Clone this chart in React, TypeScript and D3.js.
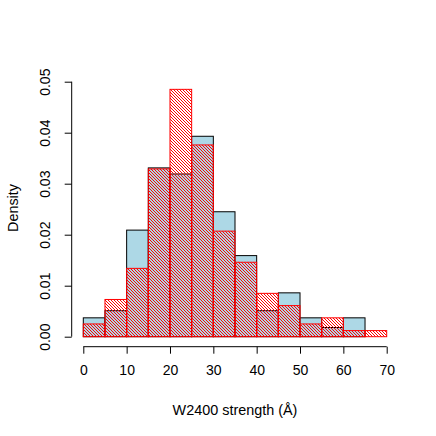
import React, { useEffect, useRef } from 'react';
import * as d3 from 'd3';

// bin edges (width 5)
const binStarts = [0, 5, 10, 15, 20, 25, 30, 35, 40, 45, 50, 55, 60, 65];
const binWidth = 5;
// densities
const blueDensity = [0.0037, 0.0051, 0.0209, 0.0331, 0.0319, 0.0393, 0.0245, 0.0159, 0.0051, 0.0086, 0.0037, 0.0018, 0.0037, 0];
const redDensity = [0.0025, 0.0073, 0.0134, 0.0329, 0.0485, 0.0376, 0.0207, 0.0146, 0.0085, 0.0061, 0.0025, 0.0037, 0.0012, 0.0012];
const xTicks = [0, 10, 20, 30, 40, 50, 60, 70];
const yTicks = [0, 0.01, 0.02, 0.03, 0.04, 0.05];

export default function App() {
  const svgRef = useRef<SVGSVGElement>(null);

  useEffect(() => {
    const width = 436;
    const height = 436;
    const svg = d3.select(svgRef.current);
    svg.selectAll('*').remove();
    svg.attr('width', width).attr('height', height);

    const x = d3.scaleLinear().domain([0, 70]).range([83.3, 386.7]);
    const y = d3.scaleLinear().domain([0, 0.05]).range([336.7, 81.7]);

    // pixel staircase hatch ("\" direction), like R's density lines
    const p = 3;
    const defs = svg.append('defs');
    const pat = defs
      .append('pattern')
      .attr('id', 'hatch')
      .attr('patternUnits', 'userSpaceOnUse')
      .attr('width', p)
      .attr('height', p);
    for (let r = 0; r < p; r++) {
      pat
        .append('rect')
        .attr('x', r)
        .attr('y', r)
        .attr('width', 1)
        .attr('height', 1)
        .attr('fill', '#ff0000')
        .attr('shape-rendering', 'crispEdges');
    }

    const blue = binStarts.map((s, i) => ({ x0: s, x1: s + binWidth, d: blueDensity[i] }));
    const red = binStarts.map((s, i) => ({ x0: s, x1: s + binWidth, d: redDensity[i] }));

    svg
      .append('g')
      .selectAll('rect')
      .data(blue.filter((b) => b.d > 0))
      .join('rect')
      .attr('x', (d) => x(d.x0))
      .attr('width', (d) => x(d.x1) - x(d.x0))
      .attr('y', (d) => y(d.d))
      .attr('height', (d) => y(0) - y(d.d))
      .attr('fill', '#add8e6')
      .attr('stroke', '#000')
      .attr('stroke-width', 1);

    svg
      .append('g')
      .selectAll('rect')
      .data(red)
      .join('rect')
      .attr('x', (d) => x(d.x0))
      .attr('width', (d) => x(d.x1) - x(d.x0))
      .attr('y', (d) => y(d.d))
      .attr('height', (d) => y(0) - y(d.d))
      .attr('fill', 'url(#hatch)')
      .attr('stroke', '#ff0000')
      .attr('stroke-width', 1);

    const font = "'Liberation Sans', Arial, sans-serif";

    // x axis (R style, offset below)
    const xa = svg
      .append('g')
      .attr('transform', 'translate(0,346.7)')
      .call(d3.axisBottom(x).tickValues(xTicks).tickSize(7).tickPadding(11).tickFormat(d3.format('d')));
    xa.attr('font-size', 14).attr('font-family', font);
    xa.select('.domain').attr('d', `M${x(0)},0H${x(70)}`);
    xa.selectAll('text').attr('fill', '#000');

    // y axis
    const ya = svg
      .append('g')
      .attr('transform', 'translate(71.7,0)')
      .call(d3.axisLeft(y).tickValues(yTicks).tickSize(7).tickFormat(d3.format('.2f')));
    ya.attr('font-size', 14).attr('font-family', font);
    ya.select('.domain').attr('d', `M0,${y(0)}V${y(0.05)}`);
    ya.selectAll('.tick text')
      .attr('fill', '#000')
      .attr('text-anchor', 'middle')
      .attr('x', 0)
      .attr('y', 0)
      .attr('dy', null)
      .attr('dominant-baseline', 'middle')
      .attr('transform', 'translate(-25,0) rotate(-90)');

    svg
      .append('text')
      .attr('x', 235)
      .attr('y', 415)
      .attr('text-anchor', 'middle')
      .attr('font-size', 14.4)
      .attr('font-family', font)
      .text('W2400 strength (Å)');

    svg
      .append('text')
      .attr('transform', 'translate(18,208) rotate(-90)')
      .attr('text-anchor', 'middle')
      .attr('font-size', 14.4)
      .attr('font-family', font)
      .text('Density');
  }, []);

  return (
    <div style={{ position: 'absolute', left: 0, top: 0 }}>
      <svg ref={svgRef}></svg>
    </div>
  );
}
